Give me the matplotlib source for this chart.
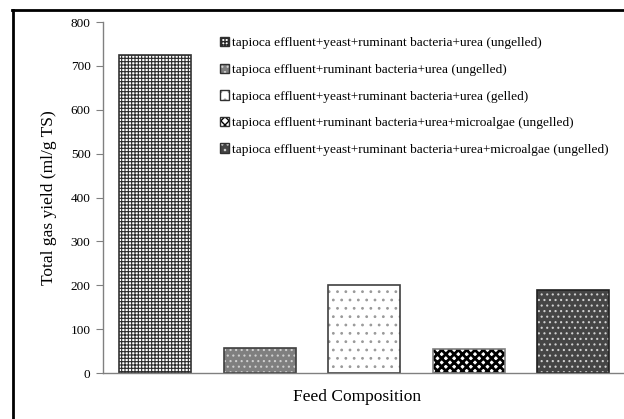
import matplotlib
matplotlib.use("Agg")
import matplotlib.pyplot as plt
from matplotlib.patches import Patch
from matplotlib.lines import Line2D

# data
labels = [
    "tapioca effluent+yeast+ruminant bacteria+urea (ungelled)",
    "tapioca effluent+ruminant bacteria+urea (ungelled)",
    "tapioca effluent+yeast+ruminant bacteria+urea (gelled)",
    "tapioca effluent+ruminant bacteria+urea+microalgae (ungelled)",
    "tapioca effluent+yeast+ruminant bacteria+urea+microalgae (ungelled)",
]
gas_yield = [725, 57, 200, 55, 190]
yticks = [0, 100, 200, 300, 400, 500, 600, 700, 800]

# fill, hatch, hatch colour, hatch width, outline for each bar
faces = ["white", "#7f7f7f", "white", "white", "#454545"]
hatches = ["+++++", "...", "..", "xxxx", "..."]
hatch_cols = ["#2a2a2a", "#cfcfcf", "#9a9a9a", "black", "#d0d0d0"]
hatch_lw = [0.8, 0.8, 0.8, 2.0, 0.8]
outlines = ["#333333", "#404040", "#404040", "#808080", "#202020"]

plt.rcParams["font.family"] = ["Liberation Serif", "DejaVu Serif"]

fig = plt.figure(figsize=(6.24, 4.19), dpi=100)
ax = fig.add_axes([103 / 624, 1 - 373 / 419, 1 - 103 / 624 + 0.002, (373 - 22) / 419])

x = list(range(len(gas_yield)))
handles = []
for i in x:
    with plt.rc_context({"hatch.linewidth": hatch_lw[i]}):
        # pattern layer (hatch takes the edge colour), then the outline on top
        ax.bar(i, gas_yield[i], width=0.69, color=faces[i], edgecolor=hatch_cols[i],
               hatch=hatches[i], linewidth=0)
        pat = Patch(facecolor=faces[i], edgecolor=hatch_cols[i], hatch=hatches[i],
                    linewidth=0)
    ax.bar(i, gas_yield[i], width=0.69, facecolor="none", edgecolor=outlines[i],
           linewidth=1.2)
    handles.append((pat, Patch(facecolor="none", edgecolor="#303030", linewidth=1.0)))

ax.set_xlim(-0.5, 4.5)
ax.set_ylim(0, 800)
ax.set_yticks(yticks)
ax.set_xticks([])
ax.tick_params(axis="y", direction="out", length=5, width=0.8, color="#808080",
               labelsize=9.5, pad=4)
for s in ["top", "right"]:
    ax.spines[s].set_visible(False)
for s in ["left", "bottom"]:
    ax.spines[s].set_color("#808080")
    ax.spines[s].set_linewidth(1.0)

ax.set_ylabel("Total gas yield (ml/g TS)", fontsize=12.5, labelpad=10)
ax.set_xlabel("Feed Composition", fontsize=12.5, labelpad=10)
ax.xaxis.set_label_coords(0.486, -0.045, transform=ax.transAxes)
ax.xaxis.label.set_va("top")

fig.legend(handles, labels, loc="upper left", bbox_to_anchor=(220 / 624, 1 - 37 / 419),
           frameon=False, fontsize=9.6, handlelength=0.7, handleheight=0.7,
           handletextpad=0.2, labelspacing=1.07, borderpad=0, borderaxespad=0)

# page frame (left and top edges)
fig.add_artist(Line2D([13 / 624, 13 / 624], [0, 1 - 10 / 419], color="black", linewidth=2,
                      transform=fig.transFigure))
fig.add_artist(Line2D([12 / 624, 1], [1 - 10 / 419, 1 - 10 / 419], color="black",
                      linewidth=2, transform=fig.transFigure))

fig.savefig("out.png", dpi=100)
